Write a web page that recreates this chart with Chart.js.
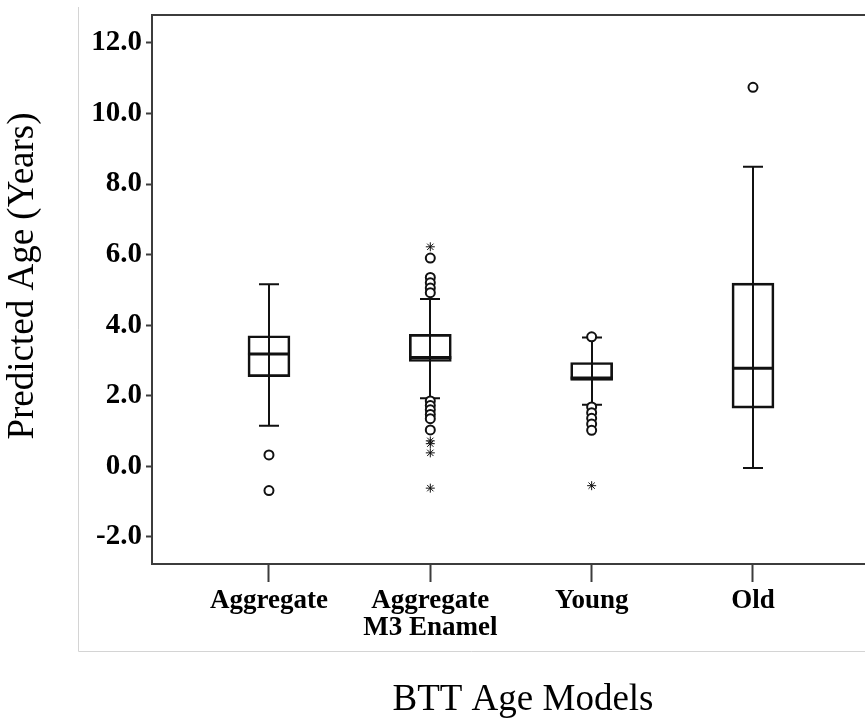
<!DOCTYPE html>
<html>
<head>
<meta charset="utf-8">
<script src="https://cdn.jsdelivr.net/npm/chart.js@4"></script>
<style>
    html, body { margin: 0; padding: 0; background: #fff; overflow: hidden; }
    #wrap { position: relative; width: 865px; height: 723px; }
</style>
</head>
<body>
<div id="wrap"><canvas id="boxChart" width="865" height="723"></canvas></div>
<script>
/* ------------------ DATA ------------------ */
const categories = ['Aggregate', ['Aggregate', 'M3 Enamel'], 'Young', 'Old'];
const whiskerLow = [1.15, 1.93, 1.74, -0.05];
const q1 = [2.54, 2.97, 2.43, 1.65];
const median = [3.18, 3.08, 2.50, 2.78];
const q3 = [3.70, 3.74, 2.94, 5.19];
const whiskerHigh = [5.16, 4.74, 3.65, 8.49];

// outliers (circles) and extreme values (stars) per group
const outlierCircles = [
    [0.32, -0.69],
    [5.90, 5.35, 5.20, 5.05, 4.92, 1.85, 1.72, 1.60, 1.47, 1.35, 1.03],
    [3.67, 1.68, 1.52, 1.36, 1.20, 1.02],
    [10.74]
];
const outlierStars = [
    [],
    [6.22, 0.72, 0.64, 0.38, -0.62],
    [-0.55],
    []
];

const yTicks = [-2, 0, 2, 4, 6, 8, 10, 12];
const xTitle = 'BTT Age Models';
const yTitle = 'Predicted Age (Years)';

const AXIS_COLOR = '#3c3c3c';
const X_TICK_FONT = { family: 'Liberation Serif', size: 27, weight: 'bold', lineHeight: 1.0 };
const Y_TICK_FONT = { family: 'Liberation Serif', size: 29, weight: 'bold' };

/* ------------------ DATASETS ------------------ */
const positions = categories.map((c, i) => i + 1);

const boxes = positions.map((x, i) => ({ x: x, y: [q1[i], q3[i]] }));

const circlePoints = [];
const starPoints = [];
positions.forEach((x, i) => {
    outlierCircles[i].forEach(v => circlePoints.push({ x: x, y: v }));
    outlierStars[i].forEach(v => starPoints.push({ x: x, y: v }));
});

/* ------------------ PLUGINS ------------------ */
// whiskers + caps, drawn under the boxes and outlier markers
const whiskerPlugin = {
    id: 'whiskers',
    beforeDatasetsDraw(chart) {
        const { ctx, scales: { x, y } } = chart;
        ctx.save();
        ctx.strokeStyle = '#111';
        ctx.lineWidth = 2;
        positions.forEach((p, i) => {
            const px = Math.round(x.getPixelForValue(p));
            const lo = y.getPixelForValue(whiskerLow[i]);
            const hi = y.getPixelForValue(whiskerHigh[i]);
            ctx.beginPath();
            ctx.moveTo(px, lo);
            ctx.lineTo(px, hi);
            ctx.moveTo(px - 10, lo);
            ctx.lineTo(px + 10, lo);
            ctx.moveTo(px - 10, hi);
            ctx.lineTo(px + 10, hi);
            ctx.stroke();
        });
        ctx.restore();
    },
    afterDatasetDraw(chart, args) {
        // median line on top of each box
        if (args.index !== 0) return;
        const { ctx, scales: { y } } = chart;
        const bars = chart.getDatasetMeta(0).data;
        ctx.save();
        ctx.strokeStyle = '#111';
        ctx.lineWidth = 3;
        bars.forEach((bar, i) => {
            const my = y.getPixelForValue(median[i]);
            ctx.beginPath();
            ctx.moveTo(bar.x - bar.width / 2, my);
            ctx.lineTo(bar.x + bar.width / 2, my);
            ctx.stroke();
        });
        ctx.restore();
    }
};

// frame lines and axis titles
const framePlugin = {
    id: 'frame',
    beforeDraw(chart) {
        const { ctx, width } = chart;
        ctx.save();
        ctx.strokeStyle = '#d4d4d4';
        ctx.lineWidth = 1;
        ctx.beginPath();
        ctx.moveTo(78.5, 7);
        ctx.lineTo(78.5, 651.5);
        ctx.lineTo(width, 651.5);
        ctx.stroke();
        ctx.restore();
    },
    afterDraw(chart) {
        const { ctx, chartArea, width } = chart;
        ctx.save();
        // plot frame runs off the right edge
        ctx.strokeStyle = AXIS_COLOR;
        ctx.lineWidth = 2;
        ctx.beginPath();
        ctx.moveTo(chartArea.left, chartArea.top);
        ctx.lineTo(width, chartArea.top);
        ctx.moveTo(chartArea.right - 1, chartArea.bottom);
        ctx.lineTo(width, chartArea.bottom);
        ctx.stroke();

        ctx.fillStyle = '#000';
        ctx.font = '37px "Liberation Serif"';
        ctx.textAlign = 'center';
        ctx.textBaseline = 'alphabetic';
        ctx.fillText(xTitle, 523, 710);

        ctx.translate(23, 276);
        ctx.rotate(-Math.PI / 2);
        ctx.textBaseline = 'middle';
        ctx.fillText(yTitle, 0, 0);
        ctx.restore();
    }
};

/* ------------------ CHART ------------------ */
new Chart(document.getElementById('boxChart').getContext('2d'), {
    type: 'bar',
    data: {
        datasets: [{
            type: 'bar',
            data: boxes,
            barThickness: 42,
            borderWidth: 2,
            borderColor: '#111',
            borderSkipped: false,
            backgroundColor: 'rgba(255,255,255,0)',
            grouped: false
        }, {
            type: 'scatter',
            data: circlePoints,
            pointStyle: 'circle',
            pointRadius: 4.5,
            borderWidth: 2,
            borderColor: '#111',
            backgroundColor: '#fff'
        }, {
            type: 'scatter',
            data: starPoints,
            pointStyle: 'star',
            pointRadius: 4.5,
            borderWidth: 1,
            borderColor: '#111',
            backgroundColor: '#111'
        }]
    },
    options: {
        responsive: false,
        animation: false,
        events: [],
        layout: { padding: { top: 15, right: 0, bottom: 0, left: 0 } },
        plugins: {
            legend: { display: false },
            tooltip: { enabled: false }
        },
        scales: {
            x: {
                type: 'linear',
                offset: false,
                min: 0.275,
                max: 4.654,
                afterBuildTicks: s => { s.ticks = positions.map(v => ({ value: v })); },
                afterFit: s => {
                    s.height = 723 - 564;
                    s.paddingLeft = 0;
                    s.paddingRight = 0;
                },
                border: { display: true, color: AXIS_COLOR, width: 2 },
                grid: { offset: false, drawOnChartArea: false, drawTicks: true, tickLength: 18, tickWidth: 2, tickColor: AXIS_COLOR },
                ticks: {
                    color: '#000',
                    font: X_TICK_FONT,
                    padding: 6,
                    maxRotation: 0,
                    autoSkip: false,
                    callback: v => categories[v - 1]
                }
            },
            y: {
                type: 'linear',
                min: -2.77,
                max: 12.79,
                afterBuildTicks: s => { s.ticks = yTicks.map(v => ({ value: v })); },
                afterFit: s => {
                    s.width = 152;
                    s.paddingTop = 0;
                    s.paddingBottom = 0;
                },
                border: { display: true, color: AXIS_COLOR, width: 2 },
                grid: { drawOnChartArea: false, drawTicks: true, tickLength: 6, tickWidth: 2, tickColor: AXIS_COLOR },
                ticks: {
                    color: '#000',
                    font: Y_TICK_FONT,
                    padding: 4,
                    callback: v => v.toFixed(1)
                }
            }
        }
    },
    plugins: [whiskerPlugin, framePlugin]
});
</script>
</body>
</html>
